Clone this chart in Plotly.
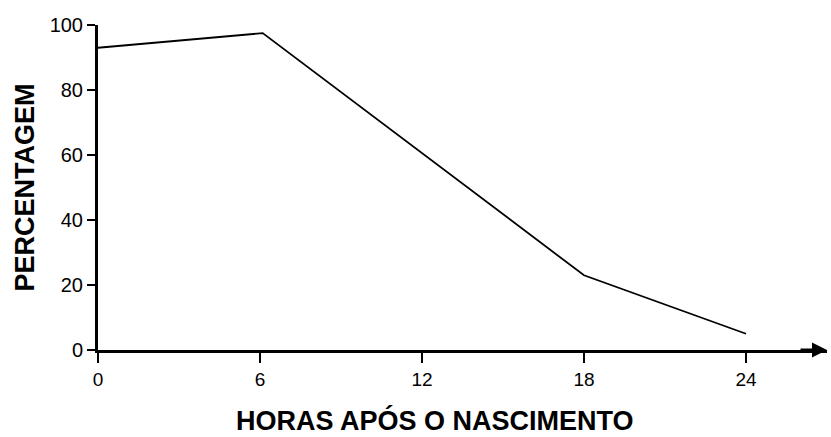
import plotly.graph_objects as go

horas = [0, 6.1, 18, 24]
percentagem = [93, 97.5, 23, 5]
x_ticks = [0, 6, 12, 18, 24]
y_ticks = [0, 20, 40, 60, 80, 100]
x_title = "HORAS APÓS O NASCIMENTO"
y_title = "PERCENTAGEM"

fig = go.Figure()
fig.add_trace(go.Scatter(x=horas, y=percentagem, mode="lines",
                         line=dict(color="black", width=1.8), showlegend=False))

fig.add_annotation(x=27, y=0, ax=-28, ay=0, xref="x", yref="y",
                   showarrow=True, arrowhead=2, arrowsize=1.0, arrowwidth=3,
                   arrowcolor="black", text="")

font = dict(family="Liberation Sans, Arial", color="black")
fig.add_annotation(text="<b>" + x_title + "</b>", xref="paper", yref="paper",
                   x=0.462, y=-0.218, xanchor="center", yanchor="middle",
                   showarrow=False, font=dict(size=27, **font))

fig.update_layout(
    width=831, height=437,
    margin=dict(l=98, r=4, t=25, b=87),
    paper_bgcolor="white", plot_bgcolor="white",
    font=dict(family="Liberation Sans, Arial", size=17, color="black"),
    xaxis=dict(range=[0, 27], tickvals=x_ticks, ticktext=[str(v) for v in x_ticks],
               showline=True, linecolor="black", linewidth=3, ticks="outside",
               ticklen=10, tickwidth=1.5, tickcolor="black", showgrid=False, zeroline=False,
               automargin=False, tickfont=dict(size=19, **font)),
    yaxis=dict(range=[0, 100], tickvals=y_ticks, ticktext=[str(v) for v in y_ticks],
               showline=True, linecolor="black", linewidth=3, ticks="outside",
               ticklen=8, tickwidth=1.5, tickcolor="black", showgrid=False, zeroline=False,
               automargin=False,
               title=dict(text="<b>" + y_title + "</b>", font=dict(size=27, **font), standoff=8),
               tickfont=dict(size=20, **font)),
)
fig.write_html("out.html", config={"displayModeBar": False},
               post_script="document.body.style.margin='0';")
